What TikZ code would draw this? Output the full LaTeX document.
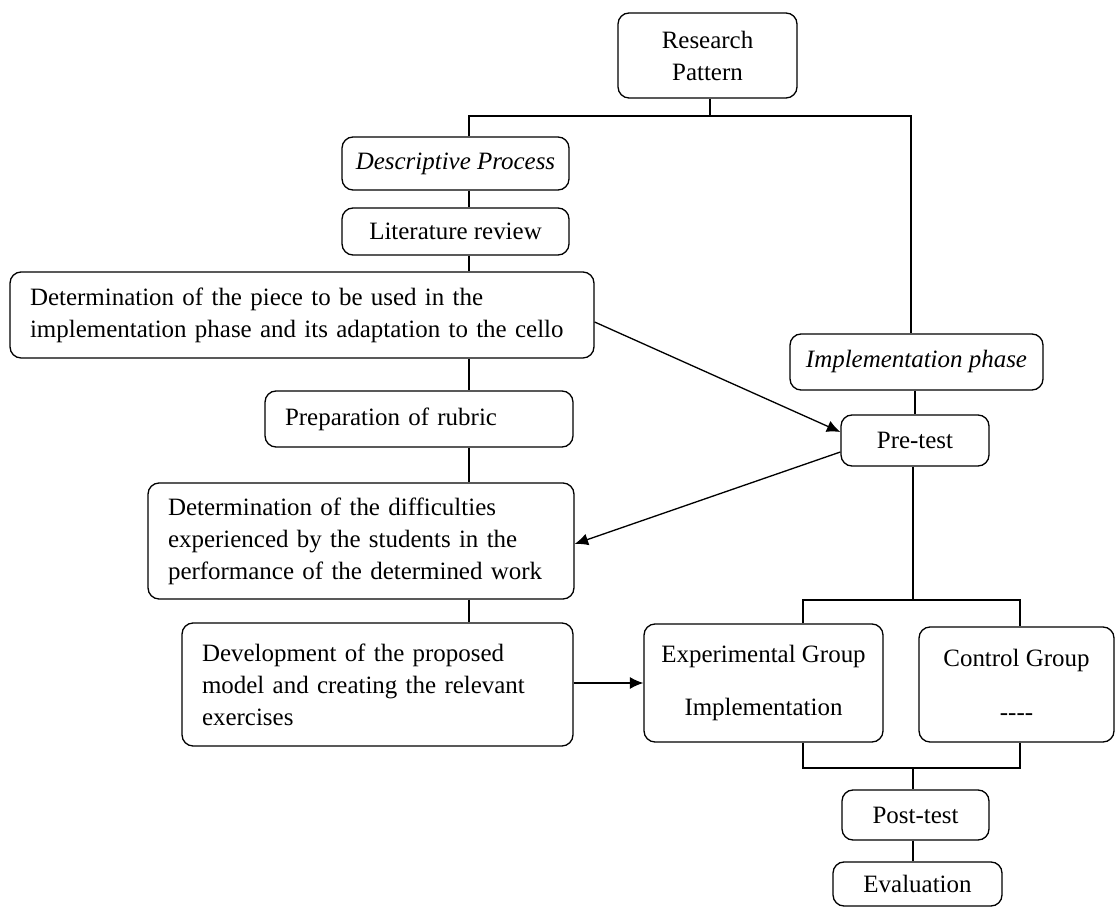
\documentclass[tikz,border=0pt]{standalone}
\usepackage{fontspec}
\setmainfont{Liberation Serif}
\usetikzlibrary{arrows.meta}
\tikzset{
  box/.style={draw,rounded corners=0.22cm,line width=0.75pt,align=center,inner sep=0pt},
  lbox/.style={box,align=left,inner xsep=0.40cm},
  link/.style={line width=0.75pt},
  brace/.style={line width=1.2pt},
  flow/.style={->,line width=0.75pt}
}

\begin{document}
\begin{tikzpicture}[x=0.02cm,y=-0.02cm,>={Latex[length=0.27cm,width=0.24cm]},
  every node/.style={font=\fontsize{14.2}{18.2}\selectfont}]
  \useasboundingbox (0,0) rectangle (1116,908);
  % left branch
  \node[box,minimum width=3.58cm,minimum height=1.70cm] (res) at (707.5,55.5) {Research\\Pattern};
  \node[box,minimum width=4.54cm,minimum height=1.06cm] (desc) at (455.5,163.5) {\itshape Descriptive Process};
  \node[box,minimum width=4.54cm,minimum height=0.94cm] (lit) at (455.5,231.5) {Literature review};
  \node[lbox,text width=10.88cm,minimum height=1.72cm] (piece) at (302,315) {Determination of the piece to be used in the\\implementation phase and its adaptation to the cello};
  \node[lbox,text width=5.36cm,minimum height=1.12cm] (rubric) at (419,419) {Preparation of rubric};
  \node[lbox,text width=7.72cm,minimum height=2.32cm] (diff) at (361,541) {Determination of the difficulties\\experienced by the students in the\\performance of the determined work};
  \node[lbox,text width=7.02cm,minimum height=2.46cm] (dev) at (377.5,684.5) {Development of the proposed\\model and creating the relevant\\exercises};
  % right branch
  \node[box,minimum width=5.06cm,minimum height=1.12cm] (impl) at (916.5,362) {\itshape Implementation phase};
  \node[box,minimum width=2.96cm,minimum height=1.02cm] (pre) at (915,440.5) {Pre-test};
  \node[box,minimum width=4.78cm,minimum height=2.36cm] (exp) at (763.5,683) {Experimental Group\\[0.44cm]Implementation};
  \node[box,minimum width=3.90cm,minimum height=2.30cm] (ctrl) at (1016.5,684.5) {Control Group\\[0.44cm]-{}-{}-{}-};
  \node[box,minimum width=2.94cm,minimum height=1.00cm] (post) at (915.5,815) {Post-test};
  \node[box,minimum width=3.38cm,minimum height=0.88cm] (eval) at (917.5,884) {Evaluation};

  \coordinate (top) at (710,116);
  \coordinate (lt) at (469,116);
  \coordinate (rt) at (911,116);
  \coordinate (bl) at (803,600);
  \coordinate (br) at (1020,600);
  \coordinate (cl) at (803,768);
  \coordinate (cr) at (1020,768);

  % tree lines
  \draw[link] (res.south -| top) -- (top);
  \draw[link] (lt |- desc.north) -- (lt) -- (rt) -- (rt |- impl.north);
  \draw[link] (lt |- desc.south) -- (lt |- lit.north);
  \draw[link] (lt |- lit.south) -- (lt |- piece.north);
  \draw[link] (lt |- piece.south) -- (lt |- rubric.north);
  \draw[link] (lt |- rubric.south) -- (lt |- diff.north);
  \draw[link] (lt |- diff.south) -- (lt |- dev.north);
  \draw[link] (impl.south -| pre.south) -- (pre.north);
  \draw[link] ([xshift=-0.04cm]pre.south) -- ([xshift=-0.04cm]pre.south |- bl);
  \draw[brace] (bl |- exp.north) -- (bl) -- (br) -- (br |- ctrl.north);
  \draw[brace] (cl |- exp.south) -- (cl) -- (cr) -- (cr |- ctrl.south);
  \draw[link] ([xshift=-0.05cm]post.north |- cl) -- ([xshift=-0.05cm]post.north);
  \draw[link] ([xshift=-0.05cm]post.south) -- ([xshift=-0.05cm]post.south |- eval.north);

  % arrows
  \draw[flow] ([yshift=-0.14cm]piece.east) -- ([yshift=0.17cm]pre.west);
  \draw[flow] ([yshift=-0.23cm]pre.west) -- ([yshift=-0.06cm]diff.east);
  \draw[flow] (dev.east |- exp.west) -- (exp.west);
\end{tikzpicture}
\end{document}
